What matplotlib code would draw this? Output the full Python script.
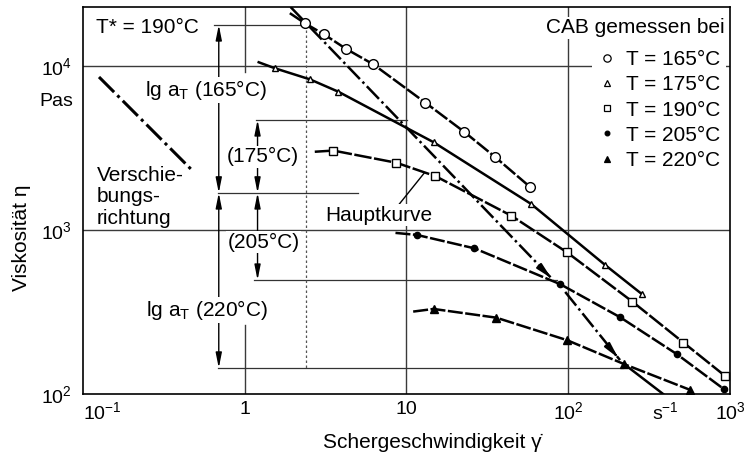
import matplotlib.pyplot as plt
from matplotlib.lines import Line2D

plt.rcParams['font.family'] = ['Liberation Sans', 'DejaVu Sans']
plt.rcParams['mathtext.fontset'] = 'custom'
plt.rcParams['mathtext.rm'] = 'Liberation Sans'
plt.rcParams['mathtext.default'] = 'regular'

rate_165 = [2.36, 3.09, 4.22, 6.23, 13.1, 22.8, 35.1, 57.7]
visc_165 = [18200, 15600, 12740, 10240, 5970, 3960, 2800, 1840]
rate_175 = [1.54, 2.53, 3.79, 14.7, 58.9, 169, 285]
visc_175 = [9680, 8290, 6970, 3430, 1442, 612, 407]
rate_190 = [3.53, 8.67, 15.1, 44.5, 98.2, 249, 515, 931]
visc_190 = [3050, 2570, 2130, 1222, 731, 366, 206, 129]
rate_205 = [11.6, 26.3, 89.3, 209, 469, 918]
visc_205 = [933, 773, 467, 294, 175, 107]
rate_220 = [14.7, 35.9, 98.2, 222, 566]
visc_220 = [330, 292, 213, 152, 106]

# where each drawn curve starts (left of the first point)
start_rate = [1.9, 1.22, 2.71, 8.55, 11.0]
start_visc = [21000, 10540, 3000, 960, 318]

labels = ['T = 165°C', 'T = 175°C', 'T = 190°C', 'T = 205°C', 'T = 220°C']
markers = ['o', '^', 's', 'o', '^']
msizes = [7, 5, 5.5, 4.5, 5.5]
filled = [False, False, False, True, True]
styles = [(0, (6, 1)), '-', (0, (7, 1)), (0, (6, 1)), (0, (6, 1))]

# shift lines / master curve construction
shift_a_rate = [1.92, 80.8]
shift_a_visc = [22900, 495]
shift_b_rate = [95.8, 209]
shift_b_visc = [419, 161]
tail_rate = [222, 386]
tail_visc = [152, 100]
dir_rate = [0.1256, 0.484]
dir_visc = [8570, 2260]
pointer_rate = [8.93, 12.9]
pointer_visc = [1420, 2230]

# horizontal reference levels: (visc, rate from, rate to)
levels = [(17800, 0.644, 2.31), (4690, 1.17, 10.1), (1683, 0.681, 4.98),
          (495, 1.14, 85.5), (144, 0.681, 219)]
# vertical double arrows: (rate, visc top, visc bottom)
arrows = [(0.691, 17800, 1683), (1.20, 4690, 1683), (1.20, 1683, 495),
          (0.691, 1683, 144)]

fig = plt.figure(figsize=(7.49, 4.57), dpi=100)
ax = fig.add_axes([0.1108, 0.1379, 0.8638, 0.8468])
ax.set_xscale('log')
ax.set_yscale('log')
ax.set_xlim(0.1, 1000)
ax.set_ylim(100, 22900)

grid_kw = dict(color='#3a3a3a', lw=1.0, zorder=1)
ax.axhline(1e4, **grid_kw)
ax.axhline(1e3, **grid_kw)
ax.axvline(1, 0, 0.178, **grid_kw)
ax.axvline(1, 0.832, 1, **grid_kw)
ax.axvline(10, **grid_kw)
ax.axvline(100, **grid_kw)

for v, r0, r1 in levels:
    ax.plot([r0, r1], [v, v], color='#333333', lw=0.9, zorder=1)
ax.plot([2.38, 2.38], [17800, 144], color='#555555', lw=0.9, ls=(0, (2, 2)), zorder=1)

for r, v0, v1 in arrows:
    ax.annotate('', xy=(r, v1), xytext=(r, v0),
                arrowprops=dict(arrowstyle='<|-|>,head_length=0.9,head_width=0.18',
                                color='k', lw=1.0, shrinkA=0, shrinkB=0), zorder=2)

dashdot = (0, (7, 1.5, 1, 1.5))
ax.plot(shift_a_rate, shift_a_visc, color='k', lw=1.8, ls=dashdot, zorder=3)
ax.annotate('', xy=(shift_a_rate[1], shift_a_visc[1]), xytext=(70, 570),
            arrowprops=dict(arrowstyle='-|>,head_length=0.9,head_width=0.2', color='k', lw=1.5))
ax.plot(shift_b_rate, shift_b_visc, color='k', lw=1.8, ls=dashdot, zorder=3)
ax.annotate('', xy=(shift_b_rate[1], shift_b_visc[1]), xytext=(190, 180),
            arrowprops=dict(arrowstyle='-|>,head_length=0.9,head_width=0.2', color='k', lw=1.5))
ax.plot(tail_rate, tail_visc, color='k', lw=1.8, zorder=3)
ax.plot(dir_rate, dir_visc, color='k', lw=2.2, ls=dashdot, zorder=3)
ax.plot(pointer_rate, pointer_visc, color='k', lw=1.0, zorder=3)

series = [(rate_165, visc_165), (rate_175, visc_175), (rate_190, visc_190),
          (rate_205, visc_205), (rate_220, visc_220)]
handles = []
for i, (r, v) in enumerate(series):
    ax.plot([start_rate[i]] + r, [start_visc[i]] + v, color='k', lw=1.8,
            ls=styles[i], zorder=3)
    fc = 'k' if filled[i] else 'white'
    ax.plot(r, v, ls='none', marker=markers[i], ms=msizes[i], mfc=fc, mec='k',
            mew=1.0, zorder=4)
    handles.append(Line2D([], [], ls='none', marker=markers[i], ms=msizes[i] * 0.75,
                          mfc=fc, mec='k', mew=0.9))

leg = ax.legend(handles, labels, loc='upper left', bbox_to_anchor=(0.787, 0.905),
                frameon=True, fontsize=15, handlelength=0.8, handletextpad=0.5,
                labelspacing=0.3, borderpad=0.3, borderaxespad=0)
leg.get_frame().set_edgecolor('none')
leg.get_frame().set_facecolor('white')
leg.get_frame().set_alpha(1)
leg.set_zorder(6)

box = dict(facecolor='white', edgecolor='none', pad=1)
fs = 15
ax.text(0.992, 0.946, 'CAB gemessen bei', transform=ax.transAxes, ha='right',
        va='center', fontsize=fs, bbox=box, zorder=7)
ax.text(0.120, 17100, 'T* = 190°C', ha='left', va='center', fontsize=fs)
ax.text(0.574, 7140, 'lg a$_T$ (165°C)', ha='center', va='center', fontsize=fs,
        bbox=box, zorder=5)
ax.text(1.29, 2790, '(175°C)', ha='center', va='center', fontsize=fs, bbox=box, zorder=5)
ax.text(1.31, 845, '(205°C)', ha='center', va='center', fontsize=fs, bbox=box, zorder=5)
ax.text(0.582, 325, 'lg a$_T$ (220°C)', ha='center', va='center', fontsize=fs,
        bbox=box, zorder=5)
ax.text(0.122, 1590, 'Verschie-\nbungs-\nrichtung', ha='left', va='center',
        fontsize=fs, linespacing=1.15, zorder=5)
ax.text(3.16, 1233, 'Hauptkurve', ha='left', va='center', fontsize=fs, bbox=box, zorder=5)

ax.set_xticks([0.1, 1, 10, 100, 400, 1000])
ax.set_xticklabels(['10$^{-1}$', '1', '10', '10$^{2}$', 's$^{-1}$', '10$^{3}$'])
ax.get_xticklabels()[0].set_ha('left')
ax.set_yticks([100, 1000, 10000])
ax.set_yticklabels(['10$^{2}$', '10$^{3}$', '10$^{4}$'])
ax.minorticks_off()
ax.tick_params(length=0, labelsize=14)
ax.tick_params(axis='x', pad=5)
ax.tick_params(axis='y', pad=8)
for s in ax.spines.values():
    s.set_linewidth(1.2)

fig.text(56 / 749, 1 - 102 / 457, 'Pas', ha='center', va='center', fontsize=14)
fig.text(22 / 749, 1 - 238 / 457, 'Viskosität η', rotation=90, ha='center',
         va='center', fontsize=fs)
fig.text(432 / 749, 1 - 442 / 457, 'Schergeschwindigkeit γ\u0307', ha='center',
         va='center', fontsize=fs)

fig.savefig('out.png', dpi=100)
